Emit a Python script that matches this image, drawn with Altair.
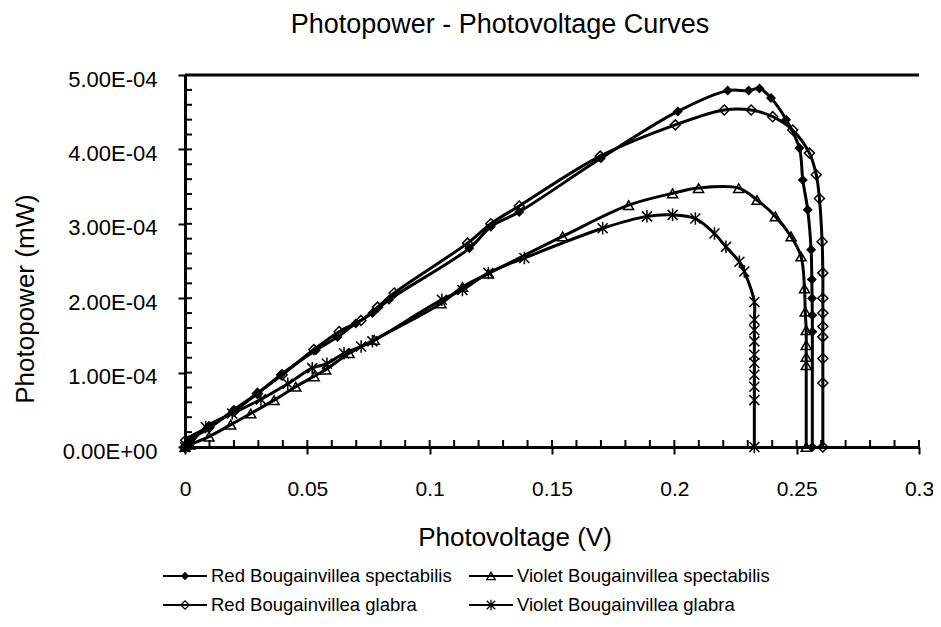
import altair as alt
import pandas as pd

FONT = "Liberation Sans"
W, H = 734, 372

series_names = [
    "Red Bougainvillea spectabilis",
    "Violet Bougainvillea spectabilis",
    "Red Bougainvillea glabra",
    "Violet Bougainvillea glabra",
]

# Red Bougainvillea spectabilis (filled diamond)
rs_v = [0, 0.0016, 0.0098, 0.020, 0.0296, 0.0391, 0.0535, 0.0623, 0.0698, 0.0766, 0.0834,
        0.1162, 0.125, 0.1366, 0.170, 0.2014, 0.2218, 0.2304, 0.2348, 0.2395, 0.2457,
        0.2511, 0.2525, 0.2545, 0.2559, 0.2562, 0.2563, 0.2564, 0.2564, 0.2564]
rs_p = [0, 0.09e-4, 0.25e-4, 0.50e-4, 0.72e-4, 0.97e-4, 1.30e-4, 1.48e-4, 1.66e-4, 1.80e-4, 1.98e-4,
        2.67e-4, 2.96e-4, 3.16e-4, 3.88e-4, 4.51e-4, 4.79e-4, 4.79e-4, 4.82e-4, 4.69e-4, 4.40e-4,
        4.02e-4, 3.59e-4, 3.19e-4, 2.65e-4, 2.25e-4, 2.00e-4, 1.77e-4, 1.55e-4, 0]

# Violet Bougainvillea spectabilis (open triangle)
vs_v = [0, 0.002, 0.0098, 0.0187, 0.0269, 0.0364, 0.0453, 0.0528, 0.0575, 0.0671, 0.0773,
        0.1046, 0.1134, 0.124, 0.1543, 0.1813, 0.1993, 0.2099, 0.2263, 0.2338, 0.2413,
        0.2477, 0.2518, 0.2532, 0.2535, 0.2539, 0.2539, 0.2539, 0.2539, 0.2539]
vs_p = [0, 0.03e-4, 0.14e-4, 0.30e-4, 0.45e-4, 0.63e-4, 0.81e-4, 0.95e-4, 1.04e-4, 1.26e-4, 1.44e-4,
        1.93e-4, 2.15e-4, 2.33e-4, 2.83e-4, 3.25e-4, 3.41e-4, 3.48e-4, 3.48e-4, 3.32e-4, 3.10e-4,
        2.83e-4, 2.56e-4, 2.13e-4, 1.82e-4, 1.57e-4, 1.37e-4, 1.21e-4, 1.10e-4, 0]

# Red Bougainvillea glabra (open diamond)
rg_v = [0, 0.0003, 0.0098, 0.0200, 0.0296, 0.0397, 0.0527, 0.0630, 0.0719, 0.0787, 0.0855,
        0.1155, 0.1250, 0.1366, 0.1697, 0.2004, 0.2204, 0.2314, 0.2402, 0.2484, 0.2552,
        0.2580, 0.2593, 0.2604, 0.2607, 0.2607, 0.2607, 0.2607, 0.2607, 0.2607, 0.2607, 0.2607]
rg_p = [0, 0.09e-4, 0.27e-4, 0.48e-4, 0.72e-4, 0.97e-4, 1.31e-4, 1.55e-4, 1.70e-4, 1.88e-4, 2.07e-4,
        2.74e-4, 3.00e-4, 3.24e-4, 3.91e-4, 4.33e-4, 4.53e-4, 4.53e-4, 4.44e-4, 4.26e-4, 3.95e-4,
        3.66e-4, 3.34e-4, 2.76e-4, 2.34e-4, 2.00e-4, 1.80e-4, 1.62e-4, 1.48e-4, 1.19e-4, 0.86e-4, 0]

# Violet Bougainvillea glabra (asterisk)
vg_v = [0, 0.002, 0.0085, 0.0193, 0.031, 0.042, 0.052, 0.058, 0.065, 0.072, 0.0766,
        0.105, 0.1134, 0.124, 0.1387, 0.1707, 0.1888, 0.1993, 0.2086, 0.2164, 0.2211,
        0.2266, 0.2286, 0.2327, 0.2327, 0.2327, 0.2327, 0.2327, 0.2327, 0.2327, 0.2327, 0.2327, 0.2327]
vg_p = [0, 0.04e-4, 0.27e-4, 0.45e-4, 0.64e-4, 0.85e-4, 1.06e-4, 1.12e-4, 1.26e-4, 1.35e-4, 1.42e-4,
        1.98e-4, 2.11e-4, 2.34e-4, 2.54e-4, 2.94e-4, 3.10e-4, 3.12e-4, 3.07e-4, 2.87e-4, 2.69e-4,
        2.49e-4, 2.36e-4, 1.95e-4, 1.71e-4, 1.57e-4, 1.42e-4, 1.24e-4, 1.13e-4, 0.97e-4, 0.81e-4, 0.63e-4, 0]

x_ticks = [0, 0.05, 0.1, 0.15, 0.2, 0.25, 0.3]
y_ticks = [0, 1e-4, 2e-4, 3e-4, 4e-4, 5e-4]
x_minor = [0, 0.01, 0.02, 0.03, 0.04, 0.05, 0.06, 0.07, 0.08, 0.09, 0.1, 0.11, 0.12, 0.13, 0.14, 0.15,
           0.16, 0.17, 0.18, 0.19, 0.2, 0.21, 0.22, 0.23, 0.24, 0.25, 0.26, 0.27, 0.28, 0.29, 0.3]
y_minor = [0, 0.2e-4, 0.4e-4, 0.6e-4, 0.8e-4, 1.0e-4, 1.2e-4, 1.4e-4, 1.6e-4, 1.8e-4, 2.0e-4,
           2.2e-4, 2.4e-4, 2.6e-4, 2.8e-4, 3.0e-4, 3.2e-4, 3.4e-4, 3.6e-4, 3.8e-4, 4.0e-4,
           4.2e-4, 4.4e-4, 4.6e-4, 4.8e-4]

title_text = "Photopower - Photovoltage Curves"
x_title = "Photovoltage (V)"
y_title = "Photopower (mW)"

ASTERISK = "M-1,-1L1,1M-1,1L1,-1M0,-1.25L0,1.25"
shapes = ["diamond", "triangle-up", "diamond", ASTERISK]
filled = [True, False, False, False]

rows = []
for name, vv, pp in zip(series_names, [rs_v, vs_v, rg_v, vg_v], [rs_p, vs_p, rg_p, vg_p]):
    for i, (a, b) in enumerate(zip(vv, pp)):
        rows.append({"series": name, "i": i, "v": a, "p": b})
df = pd.DataFrame(rows)

xs = alt.Scale(domain=[0, 0.3], nice=False, zero=False)
ys = alt.Scale(domain=[0, 5e-4], nice=False, zero=False)

x_axis = alt.Axis(values=x_ticks, format="~g", title=None, grid=False,
                  domainWidth=3, domainColor="black", tickColor="black", tickWidth=2, tickSize=7,
                  labelFont=FONT, labelFontSize=21, labelColor="black", labelPadding=41,
                  labelBaseline="alphabetic", labelFlush=False, labelOverlap=False)
y_axis = alt.Axis(values=y_ticks, title=None, grid=False,
                  labelExpr="replace(replace(format(datum.value, '.2e'), 'e-', 'E-0'), 'e+', 'E+0')",
                  domainWidth=3, domainColor="black", tickColor="black", tickWidth=2, tickSize=7,
                  labelFont=FONT, labelFontSize=22, labelColor="black", labelPadding=21,
                  labelOffset=4, labelFlush=False, labelOverlap=False)

X = alt.X("v:Q", scale=xs, axis=x_axis)
Y = alt.Y("p:Q", scale=ys, axis=y_axis)

layers = []
for k, name in enumerate(series_names):
    sub = alt.Chart(df).transform_filter(alt.datum.series == name)
    layers.append(sub.mark_line(color="black", strokeWidth=3, interpolate="catmull-rom")
                  .encode(x=X, y=Y, order="i:Q"))
    layers.append(sub.mark_point(shape=shapes[k], filled=filled[k], color="black", size=100,
                                 strokeWidth=1.5, opacity=1)
                  .encode(x=X, y=Y))

# top border of plot area
top = alt.Chart(pd.DataFrame({"p": [5e-4]})).mark_rule(color="black", strokeWidth=3).encode(y=Y)
# inward ticks
yin = alt.Chart(pd.DataFrame({"p": y_minor})).mark_rule(color="black", strokeWidth=2).encode(
    y=Y, x=alt.value(0), x2=alt.value(7))
xin = alt.Chart(pd.DataFrame({"v": x_minor})).mark_rule(color="black", strokeWidth=2).encode(
    x=X, y=alt.value(H - 7), y2=alt.value(H))

def label(text, x, y, size, angle=0, align="center", baseline="alphabetic"):
    kw = dict(font=FONT, fontSize=size, color="black", align=align, baseline=baseline)
    if angle:
        kw["angle"] = angle
    return alt.Chart(pd.DataFrame({"t": [text]})).mark_text(**kw).encode(
        text="t:N", x=alt.value(x), y=alt.value(y))

texts = [
    label(title_text, 315, -42, 27),
    label(x_title, 330, 471, 26),
    label(y_title, -159, 224, 26, angle=270, baseline="middle"),
]

# manual legend
leg_pos = [(0, 501), (306, 501), (0, 530), (306, 530)]
leg = []
for k, name in enumerate(series_names):
    mx, my = leg_pos[k]
    d = pd.DataFrame({"t": [name]})
    leg.append(alt.Chart(d).mark_rule(color="black", strokeWidth=2).encode(
        x=alt.value(mx - 22), x2=alt.value(mx + 22), y=alt.value(my)))
    leg.append(alt.Chart(d).mark_point(shape=shapes[k], filled=filled[k], color="black", size=70,
                                       strokeWidth=1.3, opacity=1).encode(
        x=alt.value(mx), y=alt.value(my)))
    leg.append(alt.Chart(d).mark_text(font=FONT, fontSize=18.5, color="black", align="left",
                                      baseline="middle").encode(
        text="t:N", x=alt.value(mx + 26), y=alt.value(my)))

chart = alt.layer(top, yin, xin, *layers, *texts, *leg).properties(
    width=W, height=H,
    autosize=alt.AutoSizeParams(type="none"),
    padding={"left": 177, "top": 67, "right": 14, "bottom": 170},
    background="white",
).configure_view(stroke=None)

chart.save("out.html", embed_options={"renderer": "svg", "actions": False})
